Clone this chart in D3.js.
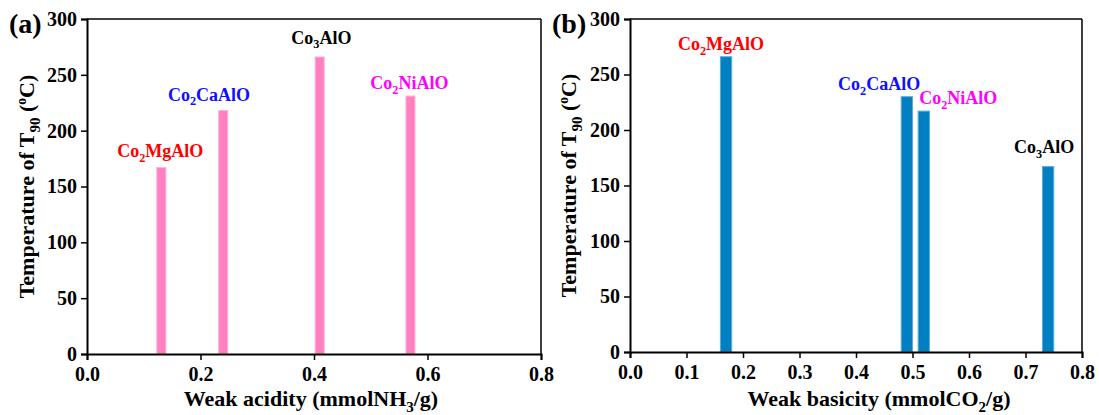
<!DOCTYPE html>
<html>
<head>
<meta charset="utf-8">
<script src="https://cdn.jsdelivr.net/npm/d3@7"></script>
<style>
  html, body { margin: 0; padding: 0; background: #fff; }
  svg text { font-family: "Liberation Serif", "Times New Roman", serif !important; font-weight: bold; }
</style>
</head>
<body>
<div id="chart"></div>
<script>
// Panel (a): weak acidity vs T90
const acidNames = ['Co2MgAlO', 'Co2CaAlO', 'Co3AlO', 'Co2NiAlO'];
const acidX = [0.131, 0.240, 0.410, 0.570];
const acidT = [167, 218, 266, 231];
const acidLabelX = [0.129, 0.215, 0.413, 0.568];
const acidLabelY = [176, 227, 278, 237];

// Panel (b): weak basicity vs T90
const baseNames = ['Co2MgAlO', 'Co2CaAlO', 'Co2NiAlO', 'Co3AlO'];
const baseX = [0.170, 0.490, 0.520, 0.740];
const baseT = [266, 230, 217, 167];
const baseLabelX = [0.161, 0.441, 0.581, 0.733];
const baseLabelY = [272, 236, 223, 179];

const yTicks = [0, 50, 100, 150, 200, 250, 300];
const acidTicks = [0.0, 0.2, 0.4, 0.6, 0.8];
const baseTicks = [0.0, 0.1, 0.2, 0.3, 0.4, 0.5, 0.6, 0.7, 0.8];

// label parts: [prefix, subscript, rest] and colour
const labelInfo = {
    'Co2MgAlO': { parts: ['Co', '2', 'MgAlO'], color: '#ff0000' },
    'Co2CaAlO': { parts: ['Co', '2', 'CaAlO'], color: '#1010ff' },
    'Co2NiAlO': { parts: ['Co', '2', 'NiAlO'], color: '#ff00ff' },
    'Co3AlO':   { parts: ['Co', '3', 'AlO'],   color: '#000000' }
};

const FONT = '"Liberation Serif", "Times New Roman", serif';

const svg = d3.select('#chart').append('svg')
    .attr('width', 1099)
    .attr('height', 415);

function subText(sel, pieces, size) {
    // pieces: array of [text, mode] with mode '', 'sub', 'sup'
    let shift = 0;
    pieces.forEach(([t, mode]) => {
        const ts = sel.append('tspan').text(t);
        if (mode === 'sub') {
            ts.attr('font-size', size * 0.68).attr('dy', size * 0.25 - shift);
            shift = size * 0.25;
        } else if (mode === 'sup') {
            ts.attr('font-size', size * 0.62).attr('dy', -size * 0.38 - shift);
            shift = -size * 0.38;
        } else {
            ts.attr('dy', -shift);
            shift = 0;
        }
    });
}

function drawPanel(cfg) {
    const g = svg.append('g');
    const x = d3.scaleLinear().domain([0, 0.8]).range([cfg.left, cfg.right]);
    const y = d3.scaleLinear().domain([0, 300]).range([cfg.bottom, cfg.top]);

    // bars
    g.selectAll('rect.bar')
        .data(cfg.xs.map((v, i) => ({ x: v, t: cfg.ts[i] })))
        .enter().append('rect')
        .attr('class', 'bar')
        .attr('x', d => x(d.x - cfg.barW / 2))
        .attr('width', d => x(d.x + cfg.barW / 2) - x(d.x - cfg.barW / 2))
        .attr('y', d => y(d.t))
        .attr('height', d => y(0) - y(d.t))
        .attr('fill', cfg.fill)
        .attr('stroke', cfg.edge)
        .attr('stroke-width', 1);

    // frame top / right
    g.append('line').attr('x1', cfg.left).attr('x2', cfg.right)
        .attr('y1', cfg.top).attr('y2', cfg.top)
        .attr('stroke', '#000').attr('stroke-width', 1.5);
    g.append('line').attr('x1', cfg.right).attr('x2', cfg.right)
        .attr('y1', cfg.top).attr('y2', cfg.bottom)
        .attr('stroke', '#000').attr('stroke-width', 1.5);

    // x axis
    const xMinor = d3.range(0, 0.8001, cfg.minorStep);
    const xAxisG = g.append('g').attr('transform', `translate(0,${cfg.bottom})`);
    xAxisG.call(d3.axisBottom(x).tickValues(xMinor).tickSize(3).tickFormat(''));
    xAxisG.call(d3.axisBottom(x).tickValues(cfg.xTicks).tickSize(6).tickPadding(7)
        .tickFormat(d3.format('.1f')));
    xAxisG.attr('font-family', FONT);
    xAxisG.selectAll('.domain').attr('stroke-width', 2);
    xAxisG.selectAll('line').attr('stroke-width', 1.5);
    xAxisG.selectAll('text').attr('font-size', 20).attr('fill', '#000')
        .attr('font-family', FONT).attr('font-weight', 'bold');

    // y axis
    const yAxisG = g.append('g').attr('transform', `translate(${cfg.left},0)`);
    yAxisG.call(d3.axisLeft(y).tickValues(d3.range(0, 301, 25)).tickSize(3).tickFormat(''));
    yAxisG.call(d3.axisLeft(y).tickValues(yTicks).tickSize(6).tickPadding(4));
    yAxisG.attr('font-family', FONT);
    yAxisG.selectAll('.domain').attr('stroke-width', 2);
    yAxisG.selectAll('line').attr('stroke-width', 1.5);
    yAxisG.selectAll('text').attr('font-size', 20).attr('fill', '#000')
        .attr('font-family', FONT).attr('font-weight', 'bold');

    // axis titles
    const xt = g.append('text')
        .attr('x', cfg.xTitleX).attr('y', 406)
        .attr('text-anchor', 'middle').attr('font-size', 22);
    subText(xt, cfg.xTitle, 22);

    const yt = g.append('text')
        .attr('transform', `translate(${cfg.yTitleX},${(cfg.top + cfg.bottom) / 2}) rotate(-90)`)
        .attr('text-anchor', 'middle').attr('font-size', 22);
    subText(yt, [['Temperature of T', ''], ['90', 'sub'], [' (', ''], ['o', 'sup'], ['C)', '']], 22);

    // panel letter
    g.append('text')
        .attr('x', cfg.letterX).attr('y', 33)
        .attr('font-size', 28)
        .text(cfg.letter);

    // sample labels
    cfg.names.forEach((n, i) => {
        const info = labelInfo[n];
        const t = g.append('text')
            .attr('x', x(cfg.lx[i])).attr('y', y(cfg.ly[i]))
            .attr('text-anchor', 'middle')
            .attr('font-size', 18)
            .attr('fill', info.color);
        subText(t, [[info.parts[0], ''], [info.parts[1], 'sub'], [info.parts[2], '']], 18);
    });
}

drawPanel({
    left: 87, right: 541, top: 19, bottom: 354,
    xs: acidX, ts: acidT, names: acidNames, lx: acidLabelX, ly: acidLabelY,
    barW: 0.016, fill: '#ff80c0', edge: '#ffb3d9',
    xTicks: acidTicks, minorStep: 0.1,
    xTitle: [['Weak acidity (mmolNH', ''], ['3', 'sub'], ['/g)', '']],
    xTitleX: 311, yTitleX: 34, letter: '(a)', letterX: 9
});

drawPanel({
    left: 630, right: 1082, top: 19, bottom: 352,
    xs: baseX, ts: baseT, names: baseNames, lx: baseLabelX, ly: baseLabelY,
    barW: 0.02, fill: '#0080c0', edge: '#5aaad8',
    xTicks: baseTicks, minorStep: 0.05,
    xTitle: [['Weak basicity (mmolCO', ''], ['2', 'sub'], ['/g)', '']],
    xTitleX: 879, yTitleX: 576, letter: '(b)', letterX: 552
});
</script>
</body>
</html>
